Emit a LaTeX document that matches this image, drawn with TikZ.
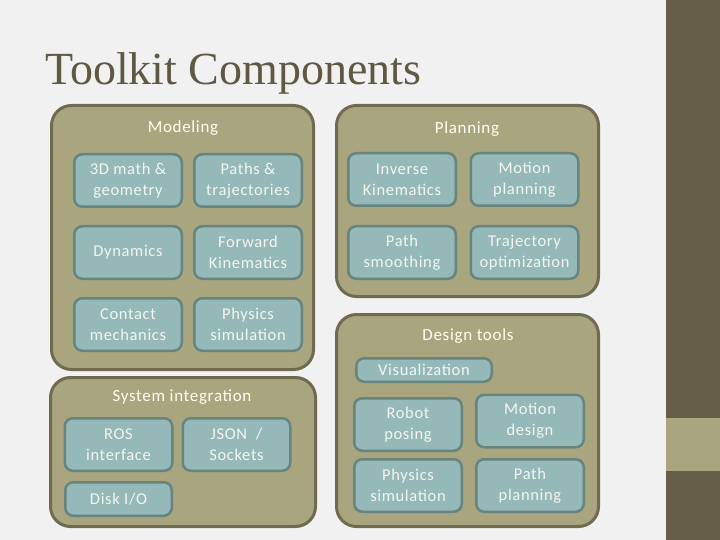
\documentclass[tikz,border=0pt]{standalone}
\usepackage{fontspec}
\setmainfont{Liberation Serif}
\setsansfont{Carlito}[LetterSpace=4]
\usepackage{tikz}

\definecolor{slidebg}{HTML}{F1F1F1}
\definecolor{stripe}{HTML}{665E48}
\definecolor{titletext}{HTML}{5F5843}
\definecolor{groupfill}{HTML}{A9A57E}
\definecolor{groupline}{HTML}{6F6A50}
\definecolor{partfill}{HTML}{95B8B8}
\definecolor{partline}{HTML}{67847F}
\definecolor{parttext}{HTML}{F4F6F0}
\definecolor{labeltext}{HTML}{FFFFF2}

\begin{document}
\begin{tikzpicture}[x=1pt,y=-1pt,
		group/.style={draw=groupline, line width=3pt, fill=groupfill, rounded corners=20pt, inner sep=0pt},
		grouplabel/.style={text=labeltext, font=\sffamily\fontsize{17}{20}\selectfont},
		part/.style={draw=partline, line width=2.5pt, fill=partfill, rounded corners=8pt,
			minimum width=107.5pt, minimum height=52.5pt, inner sep=0pt, align=center,
			text=parttext, font=\sffamily\fontsize{16.5}{21}\selectfont}]
		\useasboundingbox (0,0) rectangle (720,540);
		\fill[slidebg] (0,0) rectangle (720,540);
		\fill[stripe] (666,0) rectangle (720,540);
		\fill[groupfill] (666,418) rectangle (720,471);
		\node[anchor=base west, inner sep=0pt, text=titletext, font=\fontsize{46}{52}\selectfont] (title) at (45,85) {Toolkit Components};
		% groups
		\node[group, minimum width=262pt, minimum height=264pt] (modeling) at (182.5,237.5) {};
		\node[group, minimum width=262pt, minimum height=191pt] (planning) at (467.5,201) {};
		\node[group, minimum width=262pt, minimum height=212pt] (design) at (467.5,420.5) {};
		\node[group, minimum width=265pt, minimum height=149pt] (system) at (183,452) {};
		\node[grouplabel] (modelinglabel) at (183,128) {Modeling};
		\node[grouplabel] (planninglabel) at (467,129) {Planning};
		\node[grouplabel] (designlabel) at (468,336) {Design tools};
		\node[grouplabel] (systemlabel) at (182,397) {System integration};
		% parts
		\foreach \name/\x/\y/\label in {
				math/128/180.5/{3D math \&\\geometry}, paths/248/180.5/{Paths \&\\trajectories},
				dynamics/128/252.5/{Dynamics}, fk/248/252.5/{Forward\\Kinematics},
				contact/128/324.5/{Contact\\mechanics}, physics/248/324.5/{Physics\\simulation},
				ik/402/179.5/{Inverse\\Kinematics}, motion/524.5/179.5/{Motion\\planning},
				smoothing/402/252.5/{Path\\smoothing}, trajopt/524.5/252.5/{Trajectory\\optimization},
				posing/408/424.5/{Robot\\posing}, motiondesign/530/421/{Motion\\design},
				physicssim/408/485.5/{Physics\\simulation}, pathplan/530/485.5/{Path\\planning},
				ros/118.5/444.5/{ROS\\interface}, json/236.5/444.5/{JSON\ \ /\\Sockets}}{
			\node[part] (\name) at (\x,\y) {\label};
		}
		\node[part, minimum width=135.5pt, minimum height=23.5pt] (visualization) at (424,370) {Visualization};
		\node[part, minimum width=106.5pt, minimum height=33.5pt] (disk) at (118.5,499) {Disk I/O};
	\end{tikzpicture}
\end{document}
